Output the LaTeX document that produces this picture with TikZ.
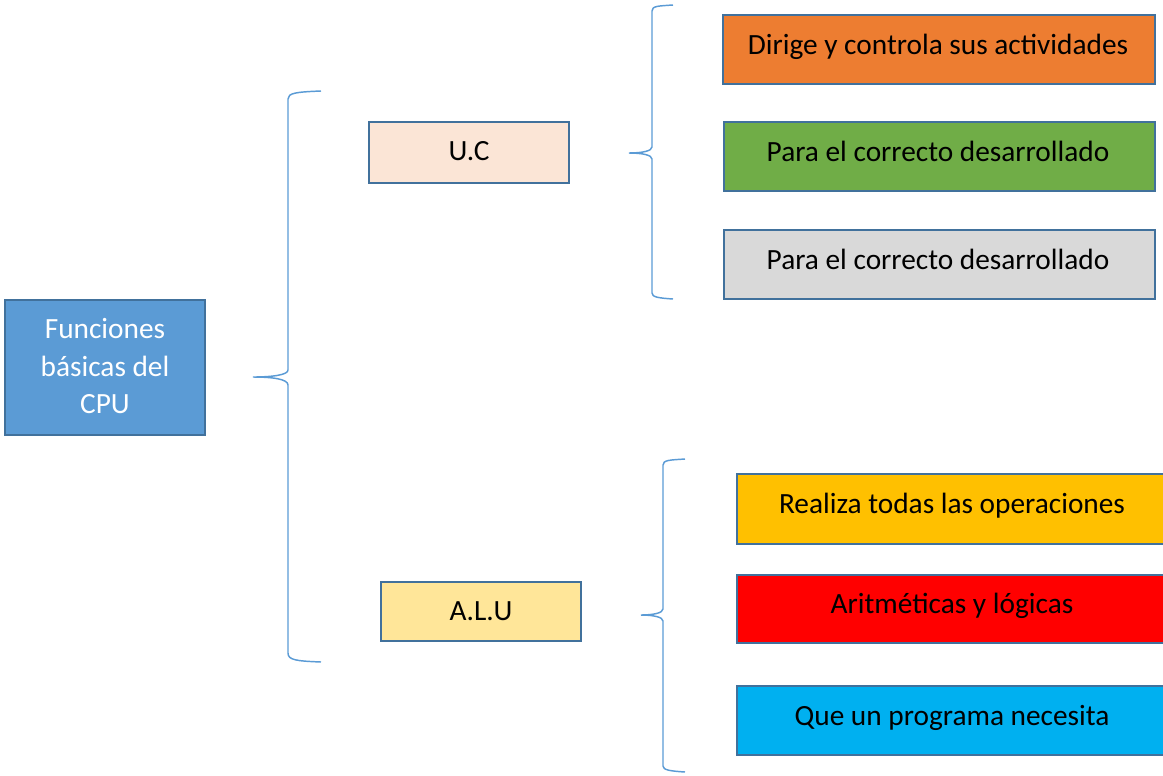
\documentclass[tikz,border=0pt]{standalone}
\usepackage{fontspec}
\setmainfont{Carlito}
\definecolor{bordc}{HTML}{41719C}
\definecolor{bracec}{HTML}{5B9BD5}
\definecolor{cpuc}{HTML}{5B9BD5}
\definecolor{ucc}{HTML}{FBE5D6}
\definecolor{aluc}{HTML}{FFE699}
\definecolor{orc}{HTML}{ED7D31}
\definecolor{grc}{HTML}{70AD47}
\definecolor{gyc}{HTML}{D9D9D9}
\definecolor{yec}{HTML}{FFC000}
\definecolor{rdc}{HTML}{FF0000}
\definecolor{cyc}{HTML}{00B0F0}
\tikzset{
  boxst/.style={draw=bordc, line width=1.9pt},
  txt/.style={anchor=base, inner sep=0pt, font=\fontsize{22}{28}\selectfont},
  bracest/.style={draw=bracec, line width=1.1pt},
}
\begin{document}
\begin{tikzpicture}[x=0.75pt,y=-0.75pt]
\useasboundingbox (0,0) rectangle (1163,775);
% boxes
\draw[boxst, fill=cpuc] (5,300) rectangle (205,435);
\node[txt, text=white] (cpu1) at (105,338) {Funciones};
\node[txt, text=white] (cpu2) at (105,376) {básicas del};
\node[txt, text=white] (cpu3) at (105,413) {CPU};
\draw[boxst, fill=ucc] (369,122) rectangle (569,183);
\node[txt] (uc) at (469,160) {U.C};
\draw[boxst, fill=aluc] (381,582) rectangle (581,641);
\node[txt] (alu) at (481,620) {A.L.U};
\draw[boxst, fill=orc] (723,15) rectangle (1155,84);
\node[txt] (o1) at (938,54) {Dirige y controla sus actividades};
\draw[boxst, fill=grc] (724,122) rectangle (1155,191);
\node[txt] (o2) at (938,161) {Para el correcto desarrollado};
\draw[boxst, fill=gyc] (724,230) rectangle (1155,299);
\node[txt] (o3) at (938,269) {Para el correcto desarrollado};
\draw[boxst, fill=yec] (737,474) rectangle (1170,544);
\node[txt] (a1) at (952,513) {Realiza todas las operaciones};
\draw[boxst, fill=rdc] (737,575) rectangle (1170,643);
\node[txt] (a2) at (952,613) {Aritméticas y lógicas};
\draw[boxst, fill=cyc] (737,686) rectangle (1170,755);
\node[txt] (a3) at (952,725) {Que un programa necesita};
% braces
\draw[bracest] (321,91) .. controls (296,92) and (288,93) .. (288,99) -- (288,370)
  .. controls (288,375) and (272,377) .. (253,377)
  .. controls (272,377) and (288,379) .. (288,385) -- (288,653)
  .. controls (288,660) and (296,661) .. (321,662);
\draw[bracest] (673,5) .. controls (658,6) and (652,6) .. (652,11) -- (652,147)
  .. controls (652,151) and (642,153) .. (629,153)
  .. controls (642,153) and (652,155) .. (652,159) -- (652,293)
  .. controls (652,297) and (658,298) .. (673,299);
\draw[bracest] (685,459) .. controls (670,460) and (663,460) .. (663,465) -- (663,609)
  .. controls (663,613) and (653,615) .. (641,615)
  .. controls (653,615) and (663,617) .. (663,621) -- (663,766)
  .. controls (663,770) and (670,771) .. (685,772);
\end{tikzpicture}
\end{document}
